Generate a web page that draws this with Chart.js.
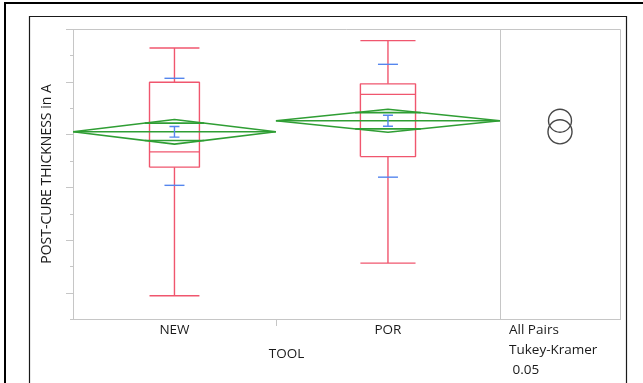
<!DOCTYPE html>
<html>
<head>
<meta charset="utf-8">
<script src="https://cdn.jsdelivr.net/npm/chart.js@4/dist/chart.umd.min.js"></script>
<style>
  html, body { margin: 0; padding: 0; background: #fff; }
  #wrap { position: relative; width: 643px; height: 383px; }
</style>
</head>
<body>
<div id="wrap"><canvas id="c"></canvas></div>
<script>
// Oneway analysis of post-cure thickness by tool
const groups      = ['NEW', 'POR'];
const groupN      = [96, 106];
const whiskerLow  = [9.4, 15.6];
const quartile1   = [33.8, 35.8];
const medians     = [36.7, 47.6];
const quartile3   = [49.9, 49.6];
const whiskerHigh = [56.4, 57.8];
const means       = [40.5, 42.6];
const stdDevs     = [10.15, 10.7];
const stdErrs     = [1.0, 1.05];
const ci95Half    = [2.34, 2.18];
const tukeyRadius = [2.28, 2.18];
const yMin = 5, yMax = 60, yStep = 5;
const compareLabel = ['All Pairs', 'Tukey-Kramer', ' 0.05'];

const FONT = '"Open Sans", "Noto Sans", sans-serif';
const RED = '#f0566e', GREEN = '#2f9e34', BLUE = '#5586ee', GRID = '#c6c6c6', TEXT = '#1a1a1a';

// x axis is proportional to group size; a comparison-circle panel sits to the right
const xTotal = groupN.reduce((a, b) => a + b, 0);
const starts = groupN.map((n, i) => groupN.slice(0, i).reduce((a, b) => a + b, 0));
const centers = groupN.map((n, i) => starts[i] + n / 2);
const PANEL_RATIO = 120 / 427;
const xMax = xTotal * (1 + PANEL_RATIO);
const panelCenter = xTotal + xTotal * PANEL_RATIO / 2;
const BOX_FRAC = 0.246;
const K = Math.SQRT1_2;

function path(points, color, order, width) {
  return {
    type: 'scatter', showLine: true, order,
    data: points.map(([x, y]) => ({ x, y })),
    borderColor: color, borderWidth: width, pointRadius: 0,
    borderJoinStyle: 'bevel', fill: false, tension: 0
  };
}

const datasets = [];
groupN.forEach((n, i) => {
  const c = centers[i], s = starts[i], e = starts[i] + n, h = n * BOX_FRAC / 2;
  const m = means[i], ci = ci95Half[i], w = (n / 2) * (1 - K);
  // box plot
  datasets.push(path([[c - h, quartile1[i]], [c - h, quartile3[i]], [c + h, quartile3[i]], [c + h, quartile1[i]], [c - h, quartile1[i]]], RED, 3, 1.4));
  datasets.push(path([[c - h, medians[i]], [c + h, medians[i]]], RED, 3, 1.4));
  datasets.push(path([[c, quartile3[i]], [c, whiskerHigh[i]]], RED, 3, 1.4));
  datasets.push(path([[c - h, whiskerHigh[i]], [c + h, whiskerHigh[i]]], RED, 3, 1.4));
  datasets.push(path([[c, quartile1[i]], [c, whiskerLow[i]]], RED, 3, 1.4));
  datasets.push(path([[c - h, whiskerLow[i]], [c + h, whiskerLow[i]]], RED, 3, 1.4));
  // means diamond with overlap marks
  datasets.push(path([[s, m], [c, m + ci], [e, m], [c, m - ci], [s, m]], GREEN, 1, 1.6));
  datasets.push(path([[s, m], [e, m]], GREEN, 1, 1.6));
  datasets.push(path([[c - w, m + ci * K], [c + w, m + ci * K]], GREEN, 1, 1.6));
  datasets.push(path([[c - w, m - ci * K], [c + w, m - ci * K]], GREEN, 1, 1.6));
});
// Tukey-Kramer comparison circles
datasets.push({
  type: 'scatter', order: 0,
  data: means.map(m => ({ x: panelCenter, y: m })),
  pointRadius: ctx => {
    const ys = ctx.chart.scales.y, i = ctx.dataIndex;
    return Math.abs(ys.getPixelForValue(means[i] + tukeyRadius[i]) - ys.getPixelForValue(means[i]));
  },
  pointBackgroundColor: 'rgba(0,0,0,0)',
  pointBorderColor: '#474747',
  pointBorderWidth: 1.4
});

const onewayPlugin = {
  id: 'oneway',
  beforeDraw(chart) {
    const g = chart.ctx;
    g.save();
    g.fillStyle = '#fff';
    g.fillRect(0, 0, chart.width, chart.height);
    g.strokeStyle = '#000';
    g.lineWidth = 2;
    g.beginPath(); g.moveTo(5, chart.height); g.lineTo(5, 3); g.lineTo(chart.width, 3); g.stroke();
    g.lineWidth = 1.2;
    g.strokeStyle = '#1a1a1a';
    g.beginPath(); g.moveTo(29.5, chart.height); g.lineTo(29.5, 16.5); g.lineTo(626.5, 16.5); g.lineTo(626.5, chart.height); g.stroke();
    g.restore();
  },
  afterDatasetsDraw(chart) {
    const g = chart.ctx, xs = chart.scales.x, ys = chart.scales.y, a = chart.chartArea;
    g.save();
    // frame: top, right, panel divider
    g.strokeStyle = GRID; g.lineWidth = 1;
    const xDiv = Math.round(xs.getPixelForValue(xTotal)) + 0.5;
    g.beginPath();
    g.moveTo(a.left, a.top + 0.5); g.lineTo(a.right + 0.5, a.top + 0.5); g.lineTo(a.right + 0.5, a.bottom);
    g.moveTo(xDiv, a.top); g.lineTo(xDiv, a.bottom);
    // y tick marks, long on the tens
    ys.ticks.forEach(t => {
      const y = Math.round(ys.getPixelForValue(t.value)) + 0.5;
      const len = t.value % 10 === 0 ? 7 : 3;
      g.moveTo(a.left - len, y); g.lineTo(a.left, y);
    });
    // group boundary tick on the x axis
    const xb = Math.round(xs.getPixelForValue(starts[1])) + 0.5;
    g.moveTo(xb, a.bottom); g.lineTo(xb, a.bottom + 7);
    g.stroke();

    // std dev lines and mean error bars
    g.strokeStyle = BLUE; g.lineWidth = 1.4;
    groupN.forEach((n, i) => {
      const cx = xs.getPixelForValue(centers[i]);
      const m = means[i];
      [m + stdDevs[i], m - stdDevs[i]].forEach(v => {
        const y = ys.getPixelForValue(v);
        g.beginPath(); g.moveTo(cx - 10, y); g.lineTo(cx + 10, y); g.stroke();
      });
      const yt = ys.getPixelForValue(m + stdErrs[i]), yb = ys.getPixelForValue(m - stdErrs[i]);
      g.beginPath();
      g.moveTo(cx, yt); g.lineTo(cx, yb);
      g.moveTo(cx - 5, yt); g.lineTo(cx + 5, yt);
      g.moveTo(cx - 5, yb); g.lineTo(cx + 5, yb);
      g.stroke();
    });

    // axis title and comparison label
    g.fillStyle = TEXT;
    g.font = '13.5px ' + FONT;
    g.textBaseline = 'middle';
    g.textAlign = 'center';
    g.fillText('TOOL', xs.getPixelForValue(xTotal / 2), 354);
    g.textAlign = 'left';
    const lx = xs.getPixelForValue(xTotal) + 9;
    compareLabel.forEach((t, i) => g.fillText(t, lx, 330 + i * 20));
    g.restore();
  }
};

new Chart(document.getElementById('c'), {
  data: { datasets },
  plugins: [onewayPlugin],
  options: {
    responsive: true,
    maintainAspectRatio: false,
    animation: false,
    events: [],
    layout: { padding: { left: 0, right: 23, top: 29, bottom: 0 } },
    plugins: { legend: { display: false }, tooltip: { enabled: false } },
    scales: {
      x: {
        type: 'linear', min: 0, max: xMax,
        grid: { display: false, drawTicks: false },
        border: { display: true, color: GRID, width: 1 },
        afterBuildTicks: s => { s.ticks = centers.map(v => ({ value: v })); },
        afterFit: s => { s.height = 64; },
        ticks: {
          autoSkip: false, maxRotation: 0, padding: 3,
          color: TEXT, font: { family: FONT, size: 13.5 },
          callback: (v, i) => groups[i]
        }
      },
      y: {
        type: 'linear', min: yMin, max: yMax,
        grid: { display: false, drawTicks: false },
        border: { display: true, color: GRID, width: 1 },
        afterFit: s => { s.width = 73; },
        ticks: { display: false, stepSize: yStep },
        title: {
          display: true, text: 'POST-CURE THICKNESS in A',
          color: TEXT, font: { family: FONT, size: 14 },
          padding: { top: 38.5, bottom: 0 }
        }
      }
    }
  }
});
</script>
</body>
</html>
